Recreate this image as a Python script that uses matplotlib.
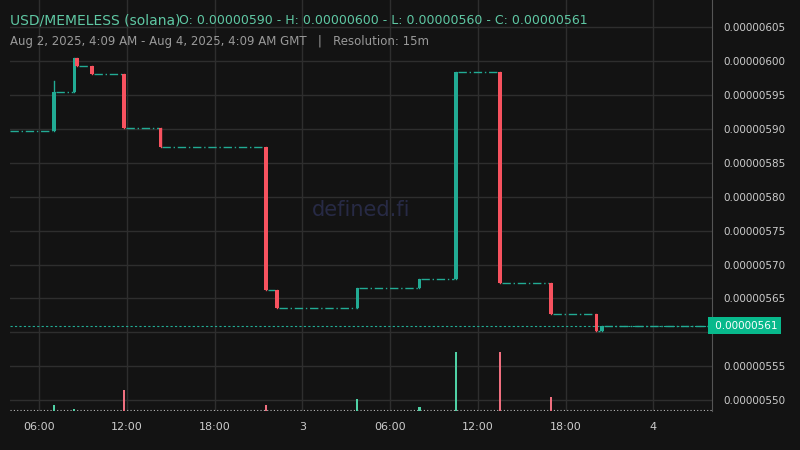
import matplotlib
matplotlib.use("Agg")
import matplotlib.pyplot as plt
import numpy as np

# event candles (hours from Aug 2 00:00 GMT), prices in 1e-8 units
t = [7.0, 8.4, 8.6, 9.6, 11.8, 14.3, 21.5, 22.25, 27.75, 32.0, 34.5, 37.5, 41.0, 44.1, 44.5]
o = [589.7, 595.4, 600.4, 599.2, 598.1, 590.1, 587.3, 566.2, 563.6, 566.5, 567.8, 598.4, 567.2, 562.7, 560.2]
c = [595.4, 600.4, 599.2, 598.1, 590.1, 587.3, 566.2, 563.6, 566.5, 567.8, 598.4, 567.2, 562.7, 560.2, 561.0]
h = [597.0, 600.4, 600.4, 599.2, 598.1, 590.1, 587.3, 566.2, 566.5, 567.8, 598.4, 598.4, 567.2, 562.7, 561.0]
l = [589.7, 595.4, 599.2, 598.1, 590.1, 587.3, 566.2, 563.6, 563.6, 566.5, 567.8, 567.2, 562.7, 560.2, 560.2]
vol_t = [7.0, 8.4, 11.8, 21.5, 27.75, 32.0, 34.5, 37.5, 41.0]
vol = [6, 2, 21, 6, 12, 4, 59, 59, 14]
vol_up = [True, True, False, False, True, True, True, False, False]
start_price = 589.7
last_price = 561.0
xticks = [6, 12, 18, 24, 30, 36, 42, 48]
xlabels = ['06:00', '12:00', '18:00', '3', '06:00', '12:00', '18:00', '4']
yticks = [550, 555, 565, 570, 575, 580, 585, 590, 595, 600, 605]

BG = '#131313'; GREEN = '#22ab94'; RED = '#f7525f'; GRID = '#2e2e2e'
x0, x1 = 4.0, 52.0

fig = plt.figure(figsize=(8, 4.5), dpi=100, facecolor=BG)
ax = fig.add_axes([10/800, 39/450, 702/800, 411/450])
ax.set_facecolor(BG)
ax.set_xlim(x0, x1)
ax.set_ylim(548.4, 609.0)
for s in ['top', 'left', 'bottom']:
    ax.spines[s].set_visible(False)
ax.spines['right'].set_color('#555555')
ax.grid(True, color=GRID, linewidth=1)
ax.set_axisbelow(True)
# gridline at 560 (its label is hidden behind the last-price box)
ax.axhline(560, color=GRID, lw=1, zorder=0)

# flat segments
seg_x = [x0] + [ti + 0.125 for ti in t]
seg_end = [ti - 0.125 for ti in t] + [x1]
seg_p = [start_price] + c
for a, b, p in zip(seg_x, seg_end, seg_p):
    ax.plot([a, b], [p, p], color=GREEN, lw=1, ls=(0, (6, 2, 1, 2)), zorder=3)

for ti, oi, ci, hi, li in zip(t, o, c, h, l):
    col = GREEN if ci >= oi else RED
    ax.plot([ti, ti], [li, hi], color=col, lw=1, zorder=4)
    ax.bar(ti, max(abs(ci - oi), 0.3), bottom=min(oi, ci), width=0.25, color=col, zorder=4)

# last price line
ax.axhline(last_price, color=GREEN, lw=0.8, ls=(0, (2, 2)), zorder=2)

# volume
vax = ax.twinx()
vax.set_ylim(0, 411)
vax.axis('off')
vax.axhline(1, color='#bbbbbb', lw=0.8, ls=(0, (1, 2)))
for vt, vv, up in zip(vol_t, vol, vol_up):
    vax.bar(vt, vv, width=0.15, color='#4fd1a5' if up else '#f06f7f', zorder=3)

ax.set_xticks(xticks)
ax.set_xticklabels(xlabels)
ax.set_yticks(yticks)
ax.set_yticklabels([f"{v*1e-8:.8f}" for v in yticks])
ax.yaxis.tick_right()
ax.yaxis.set_label_position('right')
ax.tick_params(colors='#cccccc', labelsize=7.5, length=0, pad=8)
for lab in ax.get_xticklabels():
    lab.set_fontsize(8)

ax.text(1.0, last_price, f" {last_price*1e-8:.8f}", transform=ax.get_yaxis_transform(),
        ha='left', va='center', fontsize=7.5, color='white',
        bbox=dict(boxstyle='square,pad=0.35', fc='#08b98c', ec='none'), clip_on=False, zorder=10)

ax.text(0.5, 0.49, 'defined.fi', transform=ax.transAxes, ha='center', va='center',
        fontsize=15, color='#272a45', zorder=1)

fig.text(10/800, 1 - 20/450, 'USD/MEMELESS (solana)', fontsize=10, color='#5fc8a4', va='center')
fig.text(179/800, 1 - 20/450, 'O: 0.00000590 - H: 0.00000600 - L: 0.00000560 - C: 0.00000561',
         fontsize=9, color='#5fc8a4', va='center')
fig.text(10/800, 1 - 41/450, 'Aug 2, 2025, 4:09 AM - Aug 4, 2025, 4:09 AM GMT   |   Resolution: 15m',
         fontsize=8.5, color='#9a9a9a', va='center')

fig.savefig('out.png', dpi=100, facecolor=BG)
